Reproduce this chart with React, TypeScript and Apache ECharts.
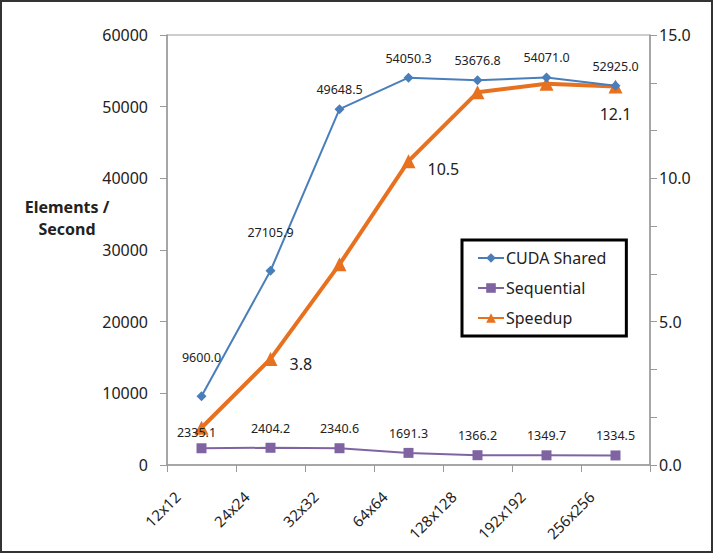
import React, { useEffect, useRef } from "react";
import * as echarts from "echarts";

const categories = ["12x12", "24x24", "32x32", "64x64", "128x128", "192x192", "256x256"];
const cudaShared = [9600.0, 27105.9, 49648.5, 54050.3, 53676.8, 54071.0, 52925.0];
const sequential = [2335.1, 2404.2, 2340.6, 1691.3, 1366.2, 1349.7, 1334.5];
const speedup = [1.3, 3.7, 7.0, 10.6, 13.0, 13.3, 13.2];
const speedupLabels = ["", "3.8", "", "10.5", "", "", "12.1"];

const FONT = "'Noto Sans', sans-serif";
const TXT = "#222";

export default function App() {
  const ref = useRef<HTMLDivElement>(null);
  useEffect(() => {
    if (!ref.current) return;
    const chart = echarts.init(ref.current, undefined, { renderer: "svg" });
    const smallLabel = { fontFamily: FONT, fontSize: 12.5, color: TXT };
    chart.setOption({
      animation: false,
      backgroundColor: "#fff",
      textStyle: { fontFamily: FONT },
      grid: { left: 167, right: 64, top: 35, bottom: 89, show: true, borderColor: "#9a9a9a", borderWidth: 1 },
      legend: {
        orient: "vertical",
        left: 462,
        top: 240,
        padding: [9, 20, 9, 15],
        borderColor: "#000",
        borderWidth: 3,
        itemWidth: 26,
        itemHeight: 12,
        itemGap: 12,
        textStyle: { fontFamily: FONT, fontSize: 16, color: TXT, lineHeight: 18, padding: [0, 0, 0, -3] },
        data: ["CUDA Shared", "Sequential", "Speedup"],
      },
      xAxis: {
        type: "category",
        data: categories,
        boundaryGap: true,
        axisLine: { lineStyle: { color: "#9a9a9a", width: 1.5 } },
        axisTick: { show: true, length: 7, lineStyle: { color: "#9a9a9a" } },
        axisLabel: {
          rotate: 45,
          interval: 0,
          margin: 5,
          padding: [0, 34, 0, 0],
          fontFamily: FONT,
          fontSize: 15,
          color: TXT,
        },
      },
      yAxis: [
        {
          type: "value",
          min: 0,
          max: 60000,
          interval: 10000,
          position: "left",
          axisLine: { show: true, lineStyle: { color: "#9a9a9a", width: 1.5 } },
          axisTick: { show: true, length: 7, lineStyle: { color: "#9a9a9a" } },
          splitLine: { show: false },
          axisLabel: {
            margin: 19,
            fontFamily: FONT,
            fontSize: 16,
            color: TXT,
            formatter: (v: number) => String(v),
          },
        },
        {
          type: "value",
          min: 0,
          max: 15,
          interval: 5,
          position: "right",
          axisLine: { show: true, lineStyle: { color: "#9a9a9a", width: 1.5 } },
          axisTick: { show: true, length: 7, lineStyle: { color: "#9a9a9a" } },
          minorTick: { show: true, splitNumber: 3, length: 7, lineStyle: { color: "#9a9a9a" } },
          splitLine: { show: false },
          axisLabel: {
            margin: 9,
            fontFamily: FONT,
            fontSize: 16,
            color: TXT,
            formatter: (v: number) => v.toFixed(1),
          },
        },
      ],
      series: [
        {
          name: "CUDA Shared",
          type: "line",
          yAxisIndex: 0,
          data: cudaShared.map((v, i) => ({
            value: v,
            label: i < 2 ? { distance: 27 } : undefined,
          })),
          symbol: "diamond",
          symbolSize: 10,
          z: 3,
          lineStyle: { color: "#4a7ebb", width: 2 },
          itemStyle: { color: "#4a7ebb" },
          label: {
            show: true,
            position: "top",
            distance: 8,
            ...smallLabel,
            formatter: (p: any) => Number(p.value).toFixed(1),
          },
        },
        {
          name: "Sequential",
          type: "line",
          yAxisIndex: 0,
          data: sequential.map((v, i) => ({
            value: v,
            label: i === 0 ? { distance: 4, offset: [-5, 0] } : undefined,
          })),
          symbol: "rect",
          symbolSize: 10,
          z: 3,
          lineStyle: { color: "#8064a2", width: 2 },
          itemStyle: { color: "#8064a2" },
          label: {
            show: true,
            position: "top",
            distance: 8,
            ...smallLabel,
            formatter: (p: any) => Number(p.value).toFixed(1),
          },
        },
        {
          name: "Speedup",
          type: "line",
          yAxisIndex: 1,
          data: speedup.map((v, i) => ({
            value: v,
            label:
              i === 6
                ? { position: "bottom", distance: 12 }
                : { position: "right", distance: 12, offset: [0, i === 1 ? 5 : 8] },
          })),
          symbol: "triangle",
          symbolSize: 14,
          z: 2,
          lineStyle: { color: "#e8711f", width: 4 },
          itemStyle: { color: "#e8711f" },
          label: {
            show: true,
            fontFamily: FONT,
            fontSize: 16,
            color: TXT,
            formatter: (p: any) => speedupLabels[p.dataIndex],
          },
        },
      ],
      graphic: [
        {
          type: "text",
          x: 67,
          y: 196,
          style: {
            text: "Elements /\nSecond",
            fontFamily: FONT,
            fontSize: 16,
            fontWeight: "bold",
            fill: TXT,
            align: "center",
            verticalAlign: "top",
            lineHeight: 22,
          },
        },
        {
          type: "rect",
          shape: { x: 1, y: 1, width: 711, height: 551 },
          style: { fill: "none", stroke: "#333", lineWidth: 2 },
          silent: true,
        },
      ],
    });
    return () => chart.dispose();
  }, []);
  return (
    <div
      ref={ref}
      style={{ position: "fixed", left: 0, top: 0, width: 714, height: 554 }}
    />
  );
}
